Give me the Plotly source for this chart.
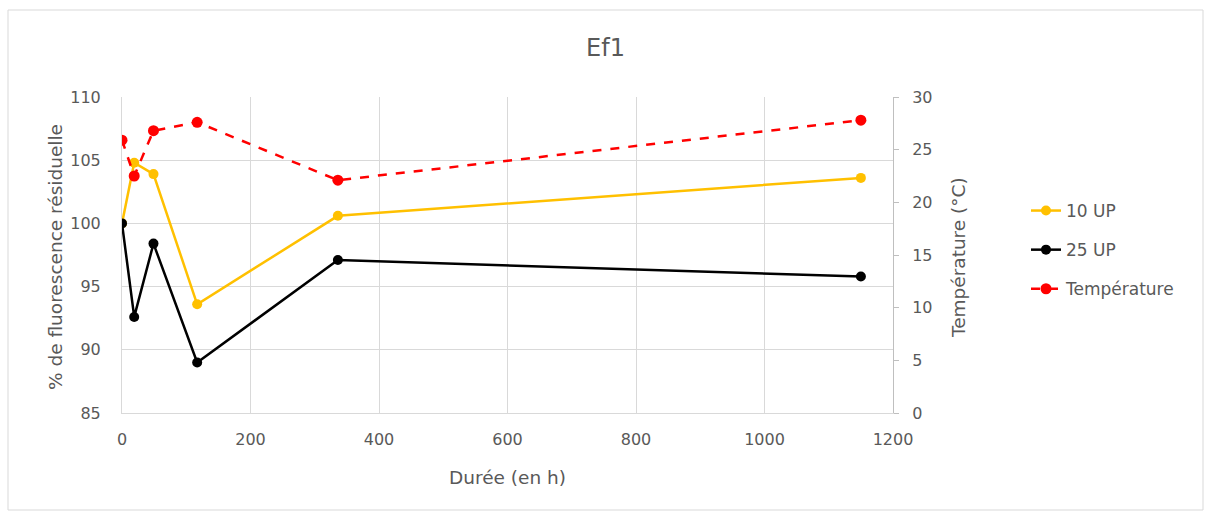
import plotly.graph_objects as go

hours = [0, 19, 49, 117, 336, 1150]
up10 = [100.0, 104.8, 103.9, 93.6, 100.6, 103.6]
up25 = [100.0, 92.6, 98.4, 89.0, 97.1, 95.8]
temperature = [25.9, 22.5, 26.8, 27.6, 22.1, 27.8]

title = "Ef1"
x_title = "Durée (en h)"
y_title = "% de fluorescence résiduelle"
y2_title = "Température (°C)"

FONT = "DejaVu Sans, sans-serif"
GREY = "#595959"
GRID = "#d9d9d9"

fig = go.Figure()
fig.add_trace(go.Scatter(x=hours, y=up10, name="10 UP", mode="lines+markers",
                         line=dict(color="#FFC000", width=2.5),
                         marker=dict(size=10, color="#FFC000"), legendgroup="a"))
fig.add_trace(go.Scatter(x=hours, y=up25, name="25 UP", mode="lines+markers",
                         line=dict(color="#000000", width=2.5),
                         marker=dict(size=10, color="#000000"), legendgroup="b"))
fig.add_trace(go.Scatter(x=hours, y=temperature, name="Température", mode="lines+markers",
                         line=dict(color="#FF0000", width=2.5, dash="dash"),
                         marker=dict(size=11, color="#FF0000"), yaxis="y2", legendgroup="c"))

L, R, T, B = 122, 893, 97, 413
W, H = 1211, 514
pw, ph = R - L, B - T

def px(xp):
    return (xp - L) / pw

def py(yp):
    return (B - yp) / ph

fig.update_layout(
    width=W, height=H,
    margin=dict(l=L, r=W - R, t=T, b=H - B, pad=0),
    paper_bgcolor="white", plot_bgcolor="white",
    font=dict(family=FONT, size=16, color=GREY),
    title=dict(text=title, x=0.5, xref="container", y=1 - 48 / H, yref="container",
               xanchor="center", yanchor="middle", font=dict(size=24, color=GREY)),
    xaxis=dict(range=[0, 1200], tickvals=[0, 200, 400, 600, 800, 1000, 1200],
               showgrid=True, gridcolor=GRID, gridwidth=1, zeroline=False,
               showline=True, linecolor=GRID, linewidth=1,
               ticks="", ticklabelstandoff=12, tickfont=dict(size=16, color=GREY)),
    yaxis=dict(range=[85, 110], tickvals=[85, 90, 95, 100, 105, 110],
               showgrid=True, gridcolor=GRID, gridwidth=1, zeroline=False,
               showline=True, linecolor=GRID, linewidth=1,
               ticks="", ticklabelstandoff=17, tickfont=dict(size=16, color=GREY)),
    yaxis2=dict(range=[0, 30], tickvals=[0, 5, 10, 15, 20, 25, 30], overlaying="y",
                side="right", showgrid=False, zeroline=False,
                showline=True, linecolor="#bfbfbf", linewidth=1,
                ticks="outside", ticklen=5, tickcolor="#bfbfbf",
                ticklabelstandoff=10, tickfont=dict(size=16, color=GREY)),
    legend=dict(x=px(1026), y=py(193), xanchor="left", yanchor="top",
                font=dict(size=17, color=GREY), tracegroupgap=14,
                bgcolor="rgba(0,0,0,0)"),
    showlegend=True,
)

fig.add_annotation(text=y_title, xref="paper", yref="paper", x=px(55), y=py(257),
                   textangle=-90, showarrow=False, font=dict(size=18.5, color=GREY),
                   xanchor="center", yanchor="middle")
fig.add_annotation(text=y2_title, xref="paper", yref="paper", x=px(958), y=py(257),
                   textangle=-90, showarrow=False, font=dict(size=18.5, color=GREY),
                   xanchor="center", yanchor="middle")
fig.add_annotation(text=x_title, xref="paper", yref="paper", x=px(507), y=py(477),
                   showarrow=False, font=dict(size=18.5, color=GREY),
                   xanchor="center", yanchor="middle")

fig.add_shape(type="rect", xref="paper", yref="paper",
              x0=px(8), x1=px(1203), y0=py(510), y1=py(10),
              line=dict(color=GRID, width=1), fillcolor="rgba(0,0,0,0)", layer="below")

fig.write_html("out.html", config={"displayModeBar": False},
               post_script="document.body.style.margin='0';")
